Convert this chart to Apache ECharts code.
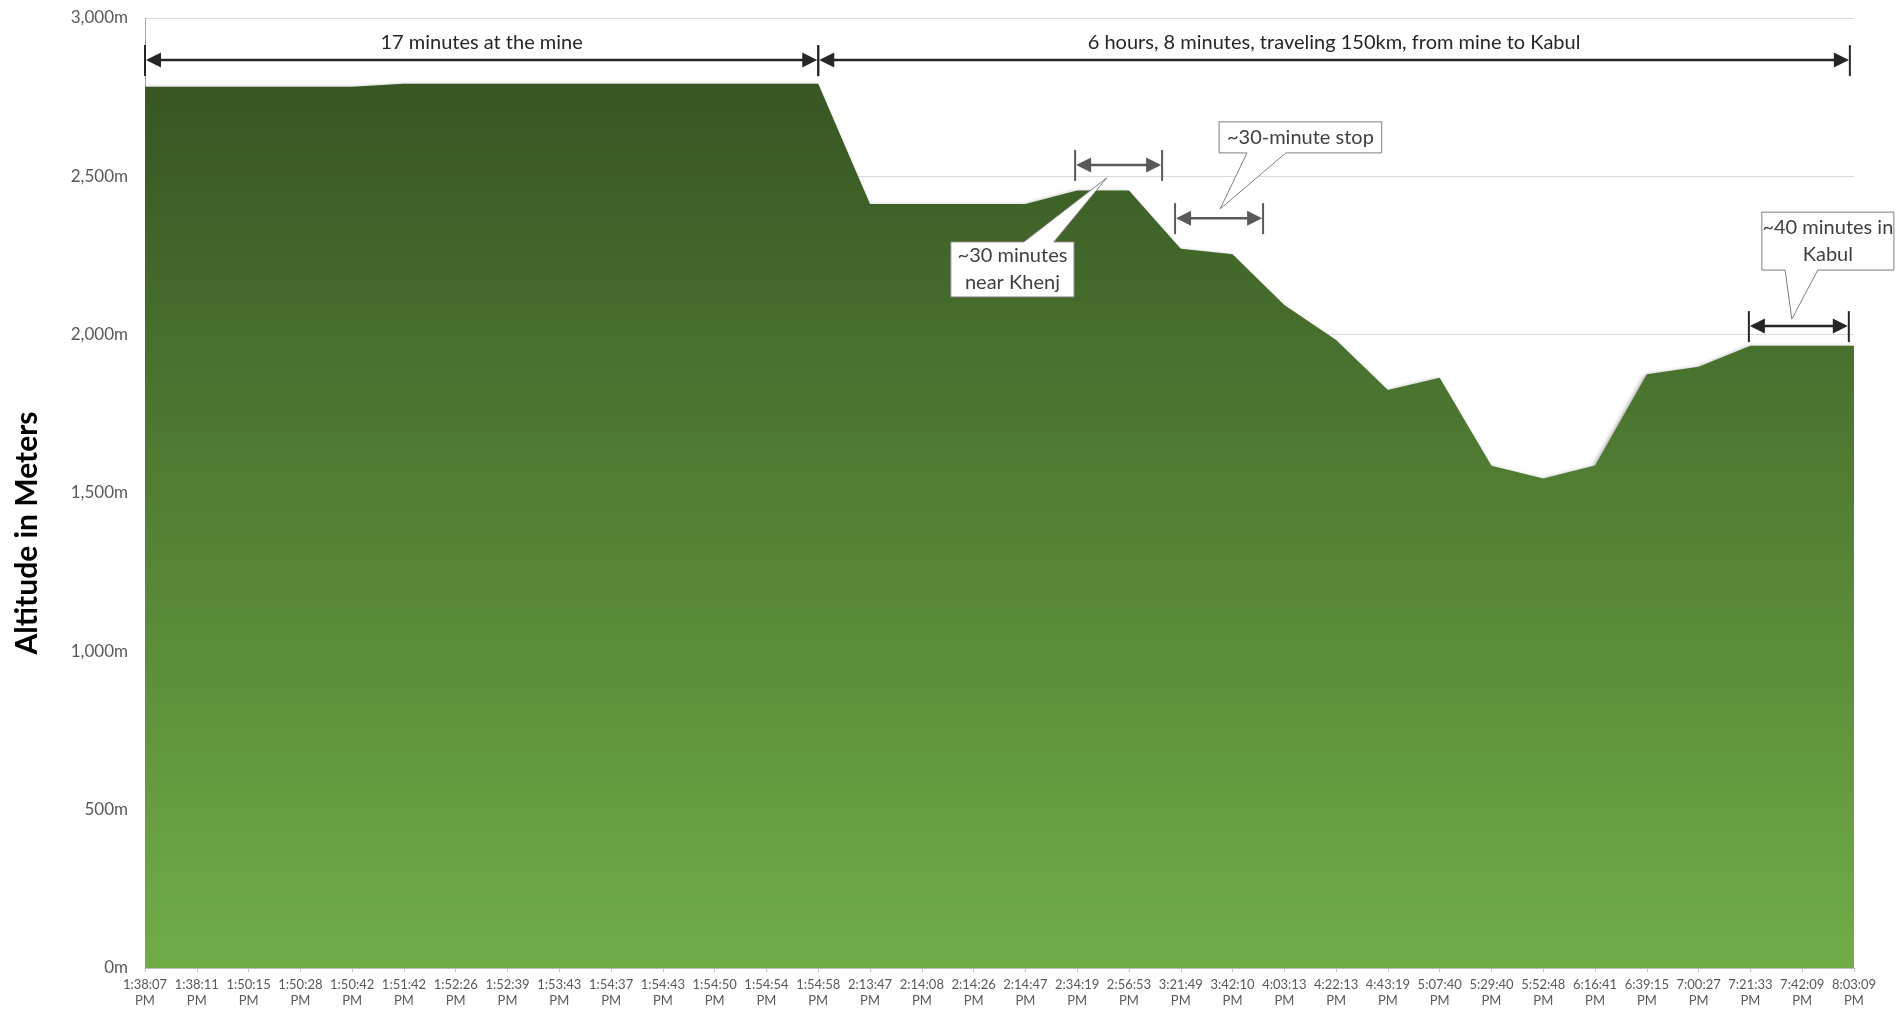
<!DOCTYPE html>
<html>
<head>
<meta charset="utf-8">
<style>
  html, body { margin: 0; padding: 0; background: #fff; }
  #chart { width: 1900px; height: 1012px; }
</style>
<script src="https://cdn.jsdelivr.net/npm/echarts@6.0.0/dist/echarts.min.js"></script>
</head>
<body>
<div id="chart"></div>
<script>
  // gps log timestamps (x categories)
  var times = ['1:38:07 PM','1:38:11 PM','1:50:15 PM','1:50:28 PM','1:50:42 PM','1:51:42 PM','1:52:26 PM',
    '1:52:39 PM','1:53:43 PM','1:54:37 PM','1:54:43 PM','1:54:50 PM','1:54:54 PM','1:54:58 PM',
    '2:13:47 PM','2:14:08 PM','2:14:26 PM','2:14:47 PM','2:34:19 PM','2:56:53 PM','3:21:49 PM',
    '3:42:10 PM','4:03:13 PM','4:22:13 PM','4:43:19 PM','5:07:40 PM','5:29:40 PM','5:52:48 PM',
    '6:16:41 PM','6:39:15 PM','7:00:27 PM','7:21:33 PM','7:42:09 PM','8:03:09 PM'];

  // altitude in meters at each timestamp
  var altitude = [2783,2783,2783,2783,2783,2792,2792,2792,2792,2792,2792,2792,2792,2792,
    2413,2413,2413,2413,2455,2455,2271,2254,2094,1983,1825,1864,1586,1546,1587,1875,1899,
    1965,1965,1965];

  var yMin = 0, yMax = 3000, yStep = 500;

  // dimension arrows: category index from/to, altitude of the arrow line
  var brackets = [
    {from: 0, to: 13, at: 2867, dark: true, label: '17 minutes at the mine'},
    {from: 13, to: 32.92, at: 2867, dark: true, label: '6 hours, 8 minutes, traveling 150km, from mine to Kabul'},
    {from: 17.96, to: 19.64, at: 2536, dark: false},
    {from: 19.89, to: 21.59, at: 2368, dark: false},
    {from: 30.97, to: 32.90, at: 2027, dark: true}
  ];

  // callouts: box [left idx, right idx, top m, bottom m], pointer base idx pair, tip [idx, m]
  var callouts = [
    {text: '~30 minutes\nnear Khenj', box: [15.56, 17.94, 2293, 2119], base: [16.97, 17.55], tip: [18.57, 2495]},
    {text: '~30-minute stop', box: [20.74, 23.88, 2672, 2574], base: [21.28, 22.03], tip: [20.76, 2397]},
    {text: '~40 minutes in\nKabul', box: [31.22, 33.77, 2387, 2204], base: [31.67, 32.30], tip: [31.80, 2049]}
  ];

  var font = 'Lato, "Open Sans", sans-serif';
  var chart = echarts.init(document.getElementById('chart'));

  var option = {
    animation: false,
    backgroundColor: '#fff',
    grid: {left: 145, right: 46, top: 18, bottom: 44, outerBoundsMode: 'none'},
    xAxis: {
      type: 'category',
      data: times,
      boundaryGap: false,
      axisLine: {lineStyle: {color: '#bfbfbf', width: 1}},
      axisTick: {show: true, length: 4, lineStyle: {color: '#bfbfbf'}},
      axisLabel: {
        interval: 0,
        margin: 9,
        color: '#595959',
        fontFamily: font,
        fontSize: 13,
        lineHeight: 16,
        formatter: function (v) { return v.replace(' ', '\n'); }
      },
      splitLine: {show: false}
    },
    yAxis: {
      type: 'value',
      min: yMin,
      max: yMax,
      interval: yStep,
      axisLine: {show: true, lineStyle: {color: '#a6a6a6', width: 1}},
      axisTick: {show: false},
      axisLabel: {
        color: '#595959',
        fontFamily: font,
        fontSize: 17,
        margin: 17,
        formatter: function (v) { return v.toLocaleString('en-US') + 'm'; }
      },
      splitLine: {lineStyle: {color: '#d9d9d9', width: 1}}
    },
    series: [{
      type: 'line',
      data: altitude,
      symbol: 'none',
      lineStyle: {width: 0},
      areaStyle: {
        opacity: 1,
        color: new echarts.graphic.LinearGradient(0, 0, 0, 1, [
          {offset: 0, color: '#375623'},
          {offset: 1, color: '#70ad47'}
        ]),
        shadowColor: 'rgba(0,0,0,0.35)',
        shadowBlur: 4,
        shadowOffsetX: -2,
        shadowOffsetY: 1
      }
    }]
  };
  chart.setOption(option);

  function xAt(idx) {
    var a = chart.convertToPixel({xAxisIndex: 0}, 0);
    var b = chart.convertToPixel({xAxisIndex: 0}, times.length - 1);
    return a + (b - a) * idx / (times.length - 1);
  }
  function yAt(m) {
    return chart.convertToPixel({yAxisIndex: 0}, m);
  }

  function drawNotes() {
    var els = [];

    els.push({
      type: 'text', x: 27, y: 533, rotation: Math.PI / 2, z: 100,
      style: {text: 'Altitude in Meters', font: 'bold 30px ' + font, fill: '#000',
        align: 'center', verticalAlign: 'middle'}
    });

    brackets.forEach(function (b) {
      var col = b.dark ? '#262626' : '#595959';
      var x1 = xAt(b.from), x2 = xAt(b.to), y = yAt(b.at);
      els.push({type: 'line', z: 110, shape: {x1: x1 + 4, y1: y, x2: x2 - 4, y2: y},
        style: {stroke: col, lineWidth: 2.5}});
      els.push({type: 'line', z: 110, shape: {x1: x1, y1: y - 15, x2: x1, y2: y + 16},
        style: {stroke: col, lineWidth: 2}});
      els.push({type: 'line', z: 110, shape: {x1: x2, y1: y - 15, x2: x2, y2: y + 16},
        style: {stroke: col, lineWidth: 2}});
      els.push({type: 'polygon', z: 110, shape: {points: [[x1 + 1, y], [x1 + 16, y - 7.5], [x1 + 16, y + 7.5]]},
        style: {fill: col}});
      els.push({type: 'polygon', z: 110, shape: {points: [[x2 - 1, y], [x2 - 16, y - 7.5], [x2 - 16, y + 7.5]]},
        style: {fill: col}});
      if (b.label) {
        els.push({type: 'text', z: 110, x: (x1 + x2) / 2, y: y - 18,
          style: {text: b.label, font: '20px ' + font, fill: '#262626',
            align: 'center', verticalAlign: 'middle'}});
      }
    });

    callouts.forEach(function (c) {
      var L = xAt(c.box[0]), R = xAt(c.box[1]), T = yAt(c.box[2]), B = yAt(c.box[3]);
      var ta = xAt(c.base[0]), tb = xAt(c.base[1]);
      var tx = xAt(c.tip[0]), ty = yAt(c.tip[1]);
      var pts;
      if (ty < T) {
        pts = [[L, T], [ta, T], [tx, ty], [tb, T], [R, T], [R, B], [L, B]];
      } else {
        pts = [[L, T], [R, T], [R, B], [tb, B], [tx, ty], [ta, B], [L, B]];
      }
      els.push({type: 'polygon', z: 100, shape: {points: pts},
        style: {fill: '#fff', stroke: '#7f7f7f', lineWidth: 1}});
      els.push({type: 'text', z: 101, x: (L + R) / 2, y: (T + B) / 2,
        style: {text: c.text, font: '20px ' + font, fill: '#404040', lineHeight: 27,
          align: 'center', verticalAlign: 'middle'}});
    });

    chart.setOption({graphic: els});
  }
  drawNotes();
</script>
</body>
</html>
